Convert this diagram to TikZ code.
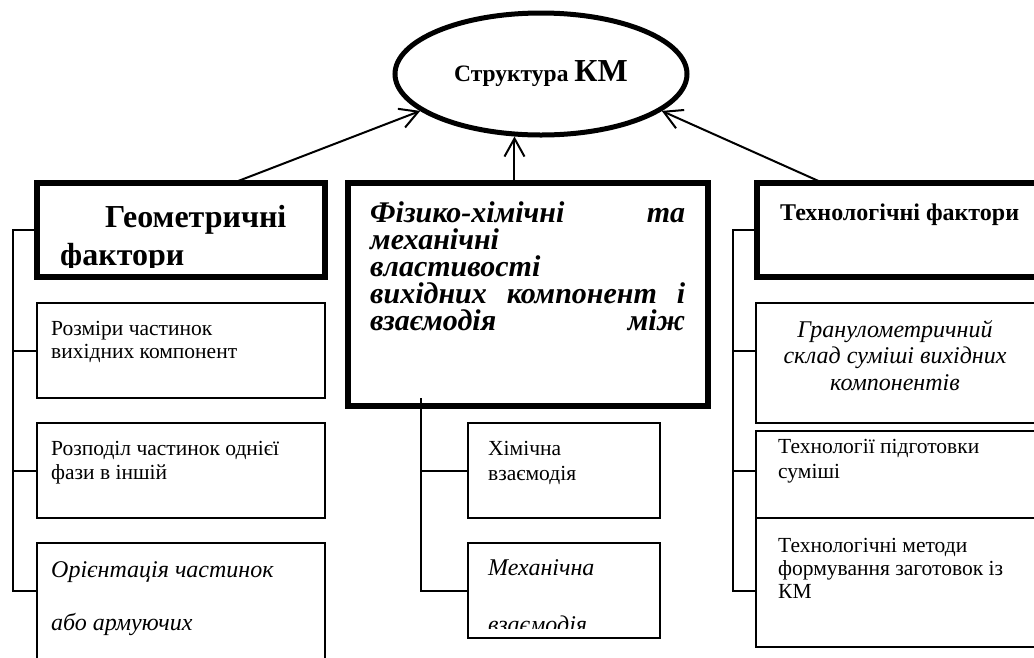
\documentclass[tikz,border=0pt]{standalone}
\usepackage{fontspec}
\setmainfont{Liberation Serif}
\usetikzlibrary{arrows.meta,positioning,calc,shapes.geometric}

\begin{document}
\lineskiplimit=-50pt
\begin{tikzpicture}[x=1pt, y=-1pt, node distance=25pt,
    head/.style={draw, line width=6.5pt, inner sep=0pt, outer sep=0pt, anchor=north west},
    item/.style={draw, line width=2pt, inner sep=0pt, outer sep=0pt, anchor=north west},
    txt/.style={anchor=base west, inner sep=0pt, align=left},
    link/.style={line width=2pt},
    arr/.style={line width=2pt, -{Straight Barb[length=18pt,width=20pt]}}]
  \useasboundingbox (0,0) rectangle (1034,657);
  \clip (0,0) rectangle (1034,657);
  % Top ellipse
  \node[ellipse, draw, line width=5pt, inner sep=0pt, minimum width=292pt, minimum height=122pt] (km) at (541,74)
    {\fontsize{23.5}{26}\selectfont\bfseries Структура {\fontsize{32}{34}\selectfont КМ}};
  % Factor headers
  \node[head, minimum width=288pt, minimum height=94pt] (geo) at (37,183) {};
  \node[head, minimum width=360pt, minimum height=223pt] (phys) at (348,183) {};
  \node[head, minimum width=303pt, minimum height=94pt] (tech) at (757,183) {};
  % Arrows to the ellipse
  \draw[arr] ($(geo.north west)+(196,0)$) -- (km.197);
  \draw[arr] (km.247 |- phys.north) -- (km.247);
  \draw[arr] ($(tech.north west)+(66,0)$) -- (km.343);
  % Left column
  \node[item, minimum width=288pt, minimum height=95pt, below=26pt of geo] (size) {};
  \node[item, minimum width=288pt, minimum height=95pt, below=of size] (distr) {};
  \node[item, minimum width=288pt, minimum height=140pt, below=of distr] (orient) {};
  % Middle column
  \node[item, minimum width=192pt, minimum height=95pt] (chem) at (468,423) {};
  \node[item, minimum width=192pt, minimum height=95pt, below=of chem] (mech) {};
  % Right column
  \node[item, minimum width=304pt, minimum height=120pt] (gran) at (756,303) {};
  \node[item, minimum width=304pt, minimum height=87pt, below=8pt of gran] (prep) {};
  \node[item, minimum width=304pt, minimum height=129pt, below=0pt of prep] (meth) {};
  % Texts
  \begin{scope}
    \clip (geo.north west) rectangle ([yshift=10pt]geo.south east);
    \node[txt, font=\fontsize{32}{38}\selectfont\bfseries] (geot) at ($(geo.north west)+(23,82)$)
      {\hspace*{45pt}Геометричні\\фактори};
  \end{scope}
  \node[txt, font=\fontsize{21.5}{23}\selectfont] (sizet) at ($(size.north west)+(14,55)$)
    {Розміри частинок\\вихідних компонент};
  \node[txt, font=\fontsize{21.5}{24}\selectfont] (distrt) at ($(distr.north west)+(14,56)$)
    {Розподіл частинок однієї\\фази в іншій};
  \node[txt, font=\fontsize{24}{53}\selectfont\itshape] (orientt) at ($(orient.north west)+(14,87)$)
    {Орієнтація частинок\\або армуючих};
  \node[txt, font=\fontsize{30}{27}\selectfont\bfseries\itshape] (physt) at ($(phys.north west)+(22,147)$)
    {\makebox[315pt][s]{Фізико-хімічні та}\\механічні\\властивості\\\makebox[315pt][s]{вихідних компонент і}\\\makebox[315pt][s]{взаємодія між}};
  \node[txt, font=\fontsize{21.5}{25}\selectfont] (chemt) at ($(chem.north west)+(20,57)$)
    {Хімічна\\взаємодія};
  \begin{scope}
    \clip (mech.north west) rectangle ([yshift=10pt]mech.south east);
    \node[txt, font=\fontsize{24}{57}\selectfont\itshape] (mecht) at ($(mech.north west)+(20,89)$)
      {Механічна\\взаємодія};
  \end{scope}
  \node[txt, font=\fontsize{24}{28}\selectfont\bfseries] (techt) at ($(tech.north west)+(23,37)$)
    {Технологічні фактори};
  \node[txt, anchor=base, align=center, font=\fontsize{24}{26.5}\selectfont\itshape] (grant) at ($(gran.north west)+(139,87)$)
    {Гранулометричний\\склад суміші вихідних\\компонентів};
  \node[txt, font=\fontsize{21.5}{25}\selectfont] (prept) at ($(prep.north west)+(22,47)$)
    {Технології підготовки\\суміші};
  \node[txt, font=\fontsize{21.5}{23}\selectfont] (metht) at ($(meth.north west)+(22,80)$)
    {Технологічні методи\\формування заготовок із\\КМ};
  % Connectors
  \foreach \n in {size,distr}
    \draw[link] (geo.west) -- ++(-24,0) |- (\n.west);
  \draw[link] (geo.west) -- ++(-24,0) |- ($(orient.north west)+(0,48)$);
  \coordinate (mtop) at (421,398);
  \draw[link] (mtop) |- (chem.west);
  \draw[link] (mtop) |- (mech.west);
  \draw[link] (tech.west) -- ++(-24,0) |- ($(gran.north west)+(0,48)$);
  \draw[link] (tech.west) -- ++(-24,0) |- ($(prep.north west)+(0,40)$);
  \draw[link] (tech.west) -- ++(-24,0) |- ($(meth.north west)+(0,73)$);
\end{tikzpicture}
\end{document}
